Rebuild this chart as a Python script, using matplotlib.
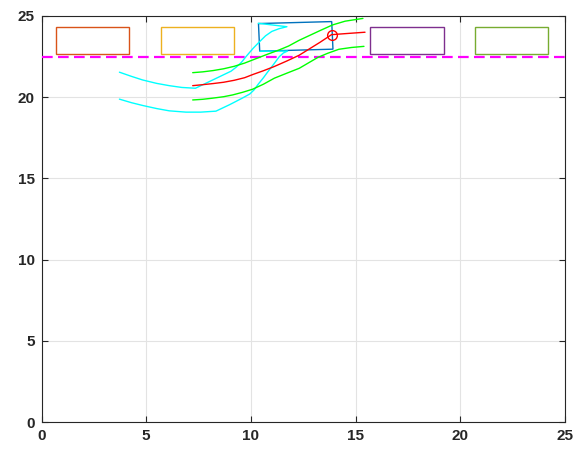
import numpy as np
import matplotlib
matplotlib.use("Agg")
import matplotlib.pyplot as plt
from matplotlib.patches import Rectangle, Polygon

plt.rcParams['font.family'] = ['Liberation Sans', 'DejaVu Sans']

# Parking slots (left edge x), common bottom y, size
slot_x = [0.7, 5.7, 15.7, 20.7]
slot_colors = ['#D95319', '#EDB120', '#7E2F8E', '#77AC30']
slot_y = 22.65
slot_len = 3.5
slot_wid = 1.7

# Vehicle pose: centre, heading (deg), same footprint as a slot
car_center = (12.14, 23.745)
car_heading = 2.0
car_color = '#0072BD'

# Lane boundary
lane_y = 22.5

# Corner trajectories (cyan)
corner1_x = [3.72, 4.3, 4.83, 5.5, 6.1, 6.7, 7.35, 9.05, 9.3, 9.55, 9.8,
             10.1, 10.4, 10.7, 11.0, 11.35, 11.72, 10.35]
corner1_y = [21.54, 21.28, 21.06, 20.85, 20.71, 20.6, 20.55, 21.6, 21.85, 22.15, 22.55,
             23.0, 23.4, 23.78, 24.05, 24.22, 24.34, 24.55]
corner2_x = [3.72, 4.3, 4.83, 5.5, 6.1, 6.9, 7.6, 8.33, 9.0, 9.6, 9.95,
             10.15, 10.35, 10.6, 10.8, 11.1, 11.36, 11.55, 11.75, 10.43]
corner2_y = [19.88, 19.66, 19.49, 19.3, 19.16, 19.08, 19.08, 19.14, 19.55, 19.95, 20.2,
             20.45, 20.8, 21.2, 21.55, 22.05, 22.5, 22.72, 22.84, 22.83]

# Side boundary paths (green)
side1_x = [7.22, 7.7, 8.2, 8.7, 9.2, 9.7, 10.1, 10.7, 11.35, 11.8, 12.3,
           12.8, 13.3, 13.9, 14.5, 15.35]
side1_y = [21.51, 21.56, 21.64, 21.75, 21.9, 22.1, 22.3, 22.6, 22.91, 23.15, 23.5,
           23.8, 24.1, 24.45, 24.68, 24.85]
side2_x = [7.22, 7.7, 8.17, 8.7, 9.13, 9.6, 10.08, 10.6, 11.12, 11.7, 12.31,
           12.8, 13.2, 13.66, 14.2, 14.8, 15.4]
side2_y = [19.83, 19.87, 19.94, 20.03, 20.14, 20.3, 20.49, 20.8, 21.17, 21.47, 21.78,
           22.15, 22.45, 22.7, 22.95, 23.06, 23.13]

# Reference path (red) and target point
path_x = [7.22, 7.7, 8.2, 8.7, 9.2, 9.7, 10.1, 10.6, 11.1, 11.7, 12.3,
          12.8, 13.3, 13.85, 14.69, 15.45]
path_y = [20.71, 20.77, 20.84, 20.92, 21.04, 21.2, 21.4, 21.63, 21.88, 22.22, 22.58,
          22.98, 23.38, 23.85, 23.93, 24.0]
target = (13.85, 23.85)

fig = plt.figure(figsize=(5.79, 4.49), dpi=100)
ax = fig.add_axes([0.0717, 0.0601, 0.9041, 0.9043])

for x0, c in zip(slot_x, slot_colors):
    ax.add_patch(Rectangle((x0, slot_y), slot_len, slot_wid, fill=False,
                           edgecolor=c, linewidth=1.0, zorder=3))

th = np.deg2rad(car_heading)
hx, hy = slot_len / 2, slot_wid / 2
local = np.array([[-hx, -hy], [hx, -hy], [hx, hy], [-hx, hy]])
rot = np.array([[np.cos(th), -np.sin(th)], [np.sin(th), np.cos(th)]])
corners = local @ rot.T + np.array(car_center)
ax.add_patch(Polygon(corners, closed=True, fill=False, edgecolor=car_color,
                     linewidth=1.0, zorder=3))

ax.axhline(lane_y, color='#FF00FF', linewidth=1.6, dashes=(4.8, 2.4), zorder=4)

line_kw = dict(linewidth=1.0, solid_joinstyle='round', solid_capstyle='round')
ax.plot(corner1_x, corner1_y, color='cyan', zorder=5, **line_kw)
ax.plot(corner2_x, corner2_y, color='cyan', zorder=5, **line_kw)
ax.plot(side1_x, side1_y, color='#00FF00', zorder=5, **line_kw)
ax.plot(side2_x, side2_y, color='#00FF00', zorder=5, **line_kw)
ax.plot(path_x, path_y, color='red', zorder=6, **line_kw)
ax.plot([target[0]], [target[1]], 'o', mfc='none', mec='red', ms=7, mew=1.0, zorder=6)

ax.set_xlim(0, 25)
ax.set_ylim(0, 25)
ax.set_xticks(np.arange(0, 26, 5))
ax.set_yticks(np.arange(0, 26, 5))
ax.grid(True, color='#e3e3e3', linewidth=0.8)
ax.set_axisbelow(True)
ax.tick_params(direction='in', length=4, width=0.8, top=True, right=True,
               colors='#262626', labelsize=11, pad=5)
for lbl in ax.get_xticklabels() + ax.get_yticklabels():
    lbl.set_fontweight('bold')
for sp in ax.spines.values():
    sp.set_color('#262626')
    sp.set_linewidth(0.8)

fig.savefig('out.png', dpi=100)
